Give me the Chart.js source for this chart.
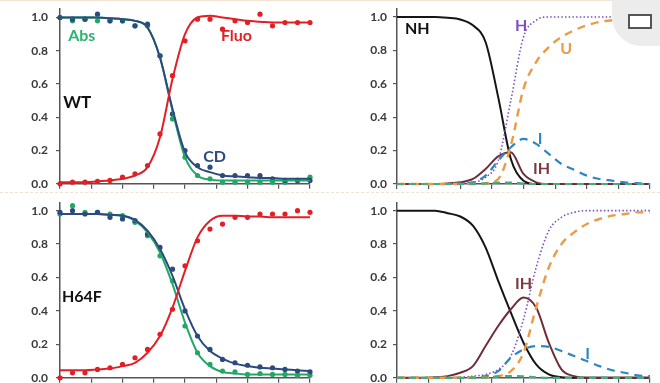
<!DOCTYPE html>
<html>
<head>
<meta charset="utf-8">
<script src="https://cdn.jsdelivr.net/npm/chart.js@4.4.1/dist/chart.umd.min.js"></script>
<style>
  html, body { margin: 0; padding: 0; background: #fff; }
  body { width: 660px; height: 383px; position: relative; overflow: hidden; }
  .panel { position: absolute; }
  #topline { position: absolute; left: 0; top: 0; width: 660px; height: 1px; background: #f4e2d2; }
  #sep { position: absolute; left: 0; top: 192px; width: 660px; height: 0; border-top: 1px dashed #efe2d4; }
  #icon { position: absolute; left: 612px; top: -4px; width: 52px; height: 50px; background: #ececec; border-bottom-left-radius: 30px; }
  #icon div { position: absolute; left: 16px; top: 18px; width: 20px; height: 11px; border: 2px solid #555; background: #fff; }
</style>
</head>
<body>
<div id="topline"></div>
<div id="sep"></div>
<div class="panel" style="left:0;top:0"><canvas id="wtFit" width="330" height="193"></canvas></div>
<div class="panel" style="left:330px;top:0"><canvas id="wtSpecies" width="330" height="192"></canvas></div>
<div class="panel" style="left:0;top:192px"><canvas id="hFit" width="330" height="195"></canvas></div>
<div class="panel" style="left:330px;top:192px"><canvas id="hSpecies" width="330" height="193"></canvas></div>
<div id="icon"><div></div></div>
<script>
// denaturant axis positions (no labels shown on x)
const xs = [0, 0.4, 0.8, 1.2, 1.6, 2.0, 2.4, 2.8, 3.2, 3.6, 4.0, 4.4, 4.8, 5.2, 5.6, 6.0, 6.4, 6.8, 7.2, 7.6, 8.0];
const yTicks = [0, 0.2, 0.4, 0.6, 0.8, 1.0];

// WT measured points
const wtAbsPts  = [1.00, 0.98, 0.99, 0.98, 0.98, 0.98, 0.95, 0.95, 0.77, 0.39, 0.16, 0.05, 0.03, 0.01, 0.01, 0.01, 0.01, 0.01, 0.01, 0.02, 0.04];
const wtCdPts   = [1.00, 0.99, 0.99, 1.02, 0.98, 0.98, 0.95, 0.96, 0.77, 0.42, 0.20, 0.11, 0.10, 0.05, 0.05, 0.05, 0.05, 0.03, 0.02, 0.02, 0.02];
const wtFluoPts = [0.00, 0.01, 0.01, 0.015, 0.02, 0.04, 0.06, 0.11, 0.30, 0.65, 0.86, 0.99, 0.99, 0.93, 0.98, 0.97, 1.02, 0.95, 0.97, 0.97, 0.97];
// WT fitted curves
const wtAbsFit  = [1.00, 1.00, 1.00, 1.00, 0.995, 0.99, 0.98, 0.94, 0.76, 0.44, 0.16, 0.05, 0.025, 0.02, 0.02, 0.02, 0.02, 0.02, 0.02, 0.02, 0.02];
const wtCdFit   = [1.00, 1.00, 1.00, 1.00, 0.995, 0.99, 0.98, 0.94, 0.76, 0.45, 0.19, 0.10, 0.07, 0.05, 0.045, 0.04, 0.035, 0.035, 0.03, 0.03, 0.03];
const wtFluoFit = [0.01, 0.01, 0.01, 0.015, 0.02, 0.03, 0.05, 0.10, 0.28, 0.63, 0.90, 1.00, 1.01, 1.00, 0.99, 0.98, 0.975, 0.97, 0.97, 0.97, 0.97];

// H64F measured points
const hAbsPts  = [0.98, 1.03, 0.99, 0.99, 0.98, 0.97, 0.93, 0.85, 0.73, 0.58, 0.31, 0.15, 0.08, 0.04, 0.035, 0.02, 0.025, 0.02, 0.02, 0.015, 0.015];
const hCdPts   = [0.99, 1.00, 0.98, 0.99, 0.96, 0.95, 0.94, 0.86, 0.78, 0.65, 0.40, 0.25, 0.17, 0.11, 0.09, 0.075, 0.065, 0.06, 0.05, 0.04, 0.035];
const hFluoPts = [0.00, 0.03, 0.03, 0.05, 0.06, 0.08, 0.12, 0.17, 0.26, 0.41, 0.67, 0.82, 0.89, 0.92, 0.96, 0.96, 0.98, 0.98, 0.98, 1.00, 0.99];
// H64F fitted curves
const hAbsFit  = [0.98, 0.98, 0.98, 0.98, 0.975, 0.97, 0.94, 0.87, 0.75, 0.56, 0.33, 0.15, 0.07, 0.035, 0.025, 0.02, 0.02, 0.02, 0.02, 0.02, 0.02];
const hCdFit   = [0.98, 0.98, 0.98, 0.98, 0.975, 0.97, 0.945, 0.88, 0.77, 0.61, 0.41, 0.25, 0.16, 0.115, 0.085, 0.07, 0.06, 0.055, 0.05, 0.045, 0.04];
const hFluoFit = [0.045, 0.045, 0.045, 0.05, 0.055, 0.07, 0.09, 0.15, 0.25, 0.42, 0.64, 0.84, 0.94, 0.97, 0.97, 0.965, 0.965, 0.96, 0.96, 0.96, 0.96];

// WT species populations
const wtNH = [1, 1, 1, 1, 0.995, 0.985, 0.95, 0.85, 0.52, 0.15, 0.02, 0, 0, 0, 0, 0, 0, 0, 0, 0, 0];
const wtH  = [0, 0, 0, 0, 0.002, 0.005, 0.01, 0.04, 0.14, 0.50, 0.88, 0.98, 1, 1, 1, 1, 1, 1, 1, 1, 1];
const wtU  = [0, 0, 0, 0, 0, 0, 0, 0.005, 0.03, 0.23, 0.57, 0.73, 0.82, 0.88, 0.92, 0.95, 0.97, 0.98, 0.99, 0.995, 1.0];
const wtI  = [0, 0, 0, 0, 0, 0.002, 0.01, 0.05, 0.14, 0.22, 0.27, 0.24, 0.18, 0.12, 0.085, 0.05, 0.03, 0.02, 0.01, 0.005, 0];
const wtIH = [0, 0, 0, 0, 0.003, 0.01, 0.03, 0.09, 0.165, 0.19, 0.06, 0.01, 0, 0, 0, 0, 0, 0, 0, 0, 0];
const wtX  = [0, 0, 0, 0, 0, 0, 0, 0.003, 0.008, 0.008, 0.003, 0, 0, 0, 0, 0, 0, 0, 0, 0, 0];

// H64F species populations
const hNH = [1, 1, 1, 1, 0.985, 0.965, 0.91, 0.78, 0.58, 0.39, 0.21, 0.08, 0.02, 0.003, 0, 0, 0, 0, 0, 0, 0];
const hH  = [0, 0, 0, 0, 0, 0.003, 0.01, 0.02, 0.05, 0.13, 0.35, 0.66, 0.88, 0.96, 0.99, 1, 1, 1, 1, 1, 1];
const hU  = [0, 0, 0, 0, 0, 0, 0, 0.003, 0.01, 0.04, 0.15, 0.42, 0.66, 0.80, 0.87, 0.92, 0.95, 0.97, 0.98, 0.99, 0.99];
const hI  = [0, 0, 0, 0, 0, 0, 0.003, 0.01, 0.04, 0.12, 0.17, 0.19, 0.185, 0.16, 0.13, 0.10, 0.07, 0.045, 0.03, 0.015, 0.01];
const hIH = [0, 0, 0, 0.003, 0.01, 0.03, 0.07, 0.19, 0.31, 0.41, 0.48, 0.42, 0.21, 0.05, 0.01, 0, 0, 0, 0, 0, 0];
const hX  = [0, 0, 0, 0, 0, 0, 0, 0.003, 0.008, 0.01, 0.008, 0.003, 0, 0, 0, 0, 0, 0, 0, 0, 0];

const GREEN = "#22a865", RED = "#e31f26", NAVY = "#2c4a80";
const PURPLE = "#7f4fbf", ORANGE = "#eb9a45", BLUE = "#2f86c2", BROWN = "#6e2f38";

const pts = (arr) => xs.map((x, i) => ({ x: x, y: arr[i] }));

function fitLine(arr, color) {
  return { data: pts(arr), borderColor: color, borderWidth: 2, pointRadius: 0,
    cubicInterpolationMode: "monotone", clip: false };
}
function dots(arr, color) {
  return { data: pts(arr), showLine: false, pointRadius: 2.6, pointBackgroundColor: color,
    pointBorderWidth: 0, clip: false };
}
function species(arr, color, dash, width) {
  return { data: pts(arr), borderColor: color, borderWidth: width, borderDash: dash,
    pointRadius: 0, cubicInterpolationMode: "monotone", clip: false };
}

const labelPlugin = {
  id: "panelLabels",
  afterDatasetsDraw(chart, args, opts) {
    const ctx = chart.ctx;
    ctx.save();
    ctx.textAlign = "left";
    ctx.textBaseline = "middle";
    (opts.items || []).forEach((l) => {
      ctx.font = "bold " + l.size + "px Lato, 'Open Sans', sans-serif";
      ctx.fillStyle = l.color;
      ctx.fillText(l.text, chart.scales.x.getPixelForValue(l.x), chart.scales.y.getPixelForValue(l.y));
    });
    ctx.restore();
  },
};

function makeChart(id, datasets, labels, box) {
  new Chart(document.getElementById(id), {
    type: "line",
    data: { datasets: datasets },
    plugins: [labelPlugin],
    options: {
      responsive: false,
      animation: false,
      devicePixelRatio: 1,
      layout: { padding: { top: box.top, right: box.right, bottom: 0, left: 0 } },
      plugins: { legend: { display: false }, tooltip: { enabled: false }, panelLabels: { items: labels } },
      scales: {
        x: {
          type: "linear", min: 0, max: 8,
          ticks: { stepSize: 1, display: false },
          grid: { drawOnChartArea: false, tickLength: 5, color: "#555", lineWidth: 1.2 },
          border: { color: "#555", width: 1.5 },
          afterFit: (s) => { s.height = box.xh; },
        },
        y: {
          min: 0, max: 1.05,
          afterBuildTicks: (s) => { s.ticks = yTicks.map((v) => ({ value: v })); },
          ticks: { padding: box.pad, color: "#3a3a3a",
            font: { family: "Lato, 'Open Sans', sans-serif", size: 12, weight: "bold", lineHeight: 0.2 },
            callback: (v) => v.toFixed(1) },
          grid: { drawOnChartArea: false, tickLength: 4, color: "#555", lineWidth: 1.2 },
          border: { color: "#555", width: 1.5 },
          afterFit: (s) => { s.width = box.left; },
        },
      },
    },
  });
}

makeChart("wtFit", [
  fitLine(wtFluoFit, RED), fitLine(wtCdFit, NAVY), fitLine(wtAbsFit, GREEN),
  dots(wtFluoPts, RED), dots(wtCdPts, NAVY), dots(wtAbsPts, GREEN),
], [
  { text: "Abs", x: 0.26, y: 0.89, color: "#2bb371", size: 16 },
  { text: "Fluo", x: 5.15, y: 0.89, color: RED, size: 16 },
  { text: "WT", x: 0.1, y: 0.49, color: "#111", size: 17 },
  { text: "CD", x: 4.58, y: 0.165, color: NAVY, size: 16 },
], { top: 8.6, right: 20, left: 60, xh: 8, pad: 8 });

makeChart("wtSpecies", [
  species(wtX, "#3fb07a", [7, 5], 2.2),
  species(wtU, ORANGE, [8, 6], 2.4),
  species(wtI, BLUE, [8, 6], 2.2),
  species(wtH, PURPLE, [1.5, 2.2], 1.6),
  species(wtIH, BROWN, [], 2),
  species(wtNH, "#151515", [], 2),
], [
  { text: "NH", x: 0.25, y: 0.93, color: "#111", size: 16 },
  { text: "H", x: 3.73, y: 0.945, color: PURPLE, size: 16 },
  { text: "U", x: 5.16, y: 0.81, color: ORANGE, size: 16 },
  { text: "I", x: 4.45, y: 0.27, color: BLUE, size: 16 },
  { text: "IH", x: 4.3, y: 0.09, color: "#7a3840", size: 16 },
], { top: 8.6, right: 10, left: 67, xh: 8, pad: 6 });

makeChart("hFit", [
  fitLine(hFluoFit, RED), fitLine(hCdFit, NAVY), fitLine(hAbsFit, GREEN),
  dots(hFluoPts, RED), dots(hCdPts, NAVY), dots(hAbsPts, GREEN),
], [
  { text: "H64F", x: 0.06, y: 0.486, color: "#111", size: 16 },
], { top: 10.3, right: 20, left: 60, xh: 5, pad: 8 });

makeChart("hSpecies", [
  species(hX, "#3fb07a", [7, 5], 2.2),
  species(hU, ORANGE, [8, 6], 2.4),
  species(hI, BLUE, [8, 6], 2.2),
  species(hH, PURPLE, [1.5, 2.2], 1.6),
  species(hIH, BROWN, [], 2),
  species(hNH, "#151515", [], 2),
], [
  { text: "IH", x: 3.73, y: 0.56, color: "#7a3840", size: 16 },
  { text: "I", x: 5.95, y: 0.145, color: BLUE, size: 16 },
], { top: 10.3, right: 10, left: 67, xh: 5, pad: 6 });
</script>
</body>
</html>
